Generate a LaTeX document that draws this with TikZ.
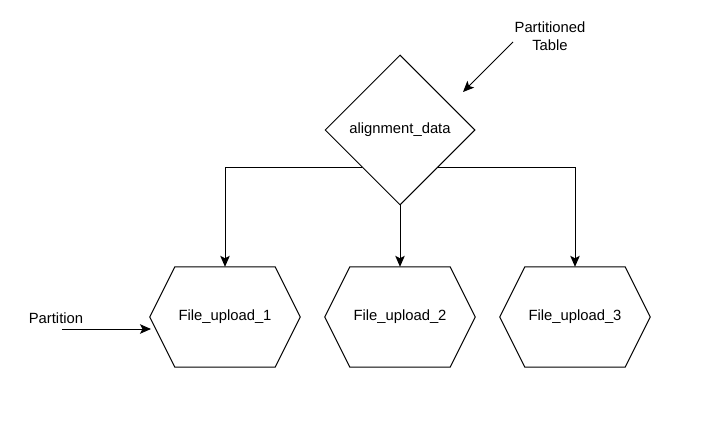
\documentclass[tikz,border=0pt]{standalone}
\usepackage{fontspec}
\setmainfont{Liberation Sans}
\usetikzlibrary{shapes.geometric,arrows.meta,calc}
\tikzset{
  txt/.style={font=\fontsize{14.8pt}{17.5pt}\selectfont},
  lbl/.style={txt, align=center, inner sep=0pt},
  arr/.style={line width=1pt, -{Stealth[length=11pt,width=9.5pt,inset=2.5pt]}},
  dia/.style={diamond, draw, line width=1pt, minimum width=150pt, minimum height=150pt, inner sep=0pt, aspect=1, txt},
  hexbox/.style={minimum width=150pt, minimum height=100pt, inner sep=0pt, txt}
}
\newcommand{\hexdraw}[1]{\draw[line width=1pt] ($(#1.north west)+(25pt,0)$) -- ($(#1.north east)+(-25pt,0)$) -- (#1.east) -- ($(#1.south east)+(-25pt,0)$) -- ($(#1.south west)+(25pt,0)$) -- (#1.west) -- cycle;}
\begin{document}
\begin{tikzpicture}[x=1pt,y=-1pt]
\useasboundingbox (0,0) rectangle (720,422);
\node[dia] (d) at (400,130) {alignment\_data};
\node[hexbox] (h1) at (225,317) {File\_upload\_1};
\node[hexbox] (h2) at (400,317) {File\_upload\_2};
\node[hexbox] (h3) at (575,317) {File\_upload\_3};
\hexdraw{h1}
\hexdraw{h2}
\hexdraw{h3}
\node[lbl] (pt) at (550,36) {Partitioned\\Table};
\coordinate (pts) at (513,42);
\coordinate (pte) at (463,92);
\node[lbl] (pa) at (56,318) {Partition};
\coordinate (pas) at (62,329);
\coordinate (pae) at (151,329);
\draw[arr] (d.south west) -| (h1.north);
\draw[arr] (d.south) -- (h2.north);
\draw[arr] (d.south east) -| (h3.north);
\draw[arr] (pts) -- (pte);
\draw[arr] (pas) -- (pae);
\end{tikzpicture}
\end{document}
